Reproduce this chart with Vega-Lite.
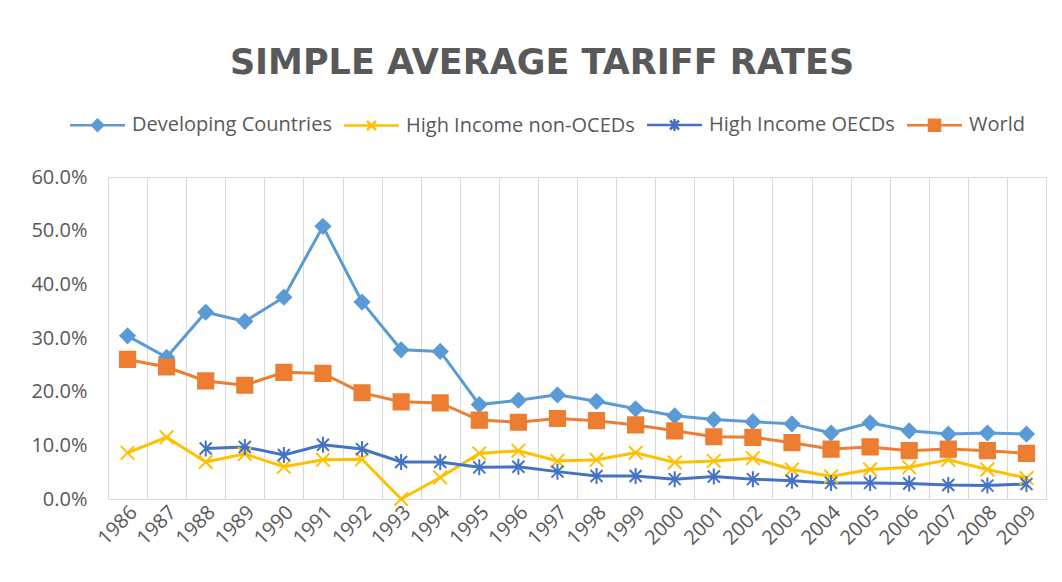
{
  "$schema": "https://vega.github.io/schema/vega-lite/v6.json",
  "width": 938,
  "height": 322,
  "autosize": {"type": "none"},
  "padding": {"left": 108, "top": 177, "right": 16, "bottom": 83},
  "background": "white",
  "title": {"text": "SIMPLE AVERAGE TARIFF RATES", "font": "DejaVu Sans", "fontSize": 35, "fontWeight": "bold", "color": "#595959", "anchor": "middle", "dx": -35, "offset": 34},
  "config": {"view": {"stroke": "#d9d9d9"}, "font": "Open Sans"},
  "data": {"values": [
    {"year": "1986", "series": "Developing Countries", "value": 0.304},
    {"year": "1987", "series": "Developing Countries", "value": 0.264},
    {"year": "1988", "series": "Developing Countries", "value": 0.348},
    {"year": "1989", "series": "Developing Countries", "value": 0.331},
    {"year": "1990", "series": "Developing Countries", "value": 0.376},
    {"year": "1991", "series": "Developing Countries", "value": 0.508},
    {"year": "1992", "series": "Developing Countries", "value": 0.367},
    {"year": "1993", "series": "Developing Countries", "value": 0.278},
    {"year": "1994", "series": "Developing Countries", "value": 0.275},
    {"year": "1995", "series": "Developing Countries", "value": 0.176},
    {"year": "1996", "series": "Developing Countries", "value": 0.184},
    {"year": "1997", "series": "Developing Countries", "value": 0.194},
    {"year": "1998", "series": "Developing Countries", "value": 0.182},
    {"year": "1999", "series": "Developing Countries", "value": 0.168},
    {"year": "2000", "series": "Developing Countries", "value": 0.155},
    {"year": "2001", "series": "Developing Countries", "value": 0.148},
    {"year": "2002", "series": "Developing Countries", "value": 0.144},
    {"year": "2003", "series": "Developing Countries", "value": 0.140},
    {"year": "2004", "series": "Developing Countries", "value": 0.123},
    {"year": "2005", "series": "Developing Countries", "value": 0.142},
    {"year": "2006", "series": "Developing Countries", "value": 0.127},
    {"year": "2007", "series": "Developing Countries", "value": 0.121},
    {"year": "2008", "series": "Developing Countries", "value": 0.123},
    {"year": "2009", "series": "Developing Countries", "value": 0.121},
    {"year": "1986", "series": "High Income non-OCEDs", "value": 0.086},
    {"year": "1987", "series": "High Income non-OCEDs", "value": 0.115},
    {"year": "1988", "series": "High Income non-OCEDs", "value": 0.069},
    {"year": "1989", "series": "High Income non-OCEDs", "value": 0.084},
    {"year": "1990", "series": "High Income non-OCEDs", "value": 0.060},
    {"year": "1991", "series": "High Income non-OCEDs", "value": 0.073},
    {"year": "1992", "series": "High Income non-OCEDs", "value": 0.074},
    {"year": "1993", "series": "High Income non-OCEDs", "value": 0.0},
    {"year": "1994", "series": "High Income non-OCEDs", "value": 0.040},
    {"year": "1995", "series": "High Income non-OCEDs", "value": 0.085},
    {"year": "1996", "series": "High Income non-OCEDs", "value": 0.090},
    {"year": "1997", "series": "High Income non-OCEDs", "value": 0.071},
    {"year": "1998", "series": "High Income non-OCEDs", "value": 0.073},
    {"year": "1999", "series": "High Income non-OCEDs", "value": 0.086},
    {"year": "2000", "series": "High Income non-OCEDs", "value": 0.068},
    {"year": "2001", "series": "High Income non-OCEDs", "value": 0.071},
    {"year": "2002", "series": "High Income non-OCEDs", "value": 0.076},
    {"year": "2003", "series": "High Income non-OCEDs", "value": 0.055},
    {"year": "2004", "series": "High Income non-OCEDs", "value": 0.042},
    {"year": "2005", "series": "High Income non-OCEDs", "value": 0.055},
    {"year": "2006", "series": "High Income non-OCEDs", "value": 0.059},
    {"year": "2007", "series": "High Income non-OCEDs", "value": 0.073},
    {"year": "2008", "series": "High Income non-OCEDs", "value": 0.055},
    {"year": "2009", "series": "High Income non-OCEDs", "value": 0.039},
    {"year": "1988", "series": "High Income OECDs", "value": 0.094},
    {"year": "1989", "series": "High Income OECDs", "value": 0.097},
    {"year": "1990", "series": "High Income OECDs", "value": 0.082},
    {"year": "1991", "series": "High Income OECDs", "value": 0.101},
    {"year": "1992", "series": "High Income OECDs", "value": 0.093},
    {"year": "1993", "series": "High Income OECDs", "value": 0.069},
    {"year": "1994", "series": "High Income OECDs", "value": 0.069},
    {"year": "1995", "series": "High Income OECDs", "value": 0.059},
    {"year": "1996", "series": "High Income OECDs", "value": 0.060},
    {"year": "1997", "series": "High Income OECDs", "value": 0.051},
    {"year": "1998", "series": "High Income OECDs", "value": 0.043},
    {"year": "1999", "series": "High Income OECDs", "value": 0.043},
    {"year": "2000", "series": "High Income OECDs", "value": 0.037},
    {"year": "2001", "series": "High Income OECDs", "value": 0.042},
    {"year": "2002", "series": "High Income OECDs", "value": 0.037},
    {"year": "2003", "series": "High Income OECDs", "value": 0.034},
    {"year": "2004", "series": "High Income OECDs", "value": 0.030},
    {"year": "2005", "series": "High Income OECDs", "value": 0.030},
    {"year": "2006", "series": "High Income OECDs", "value": 0.029},
    {"year": "2007", "series": "High Income OECDs", "value": 0.026},
    {"year": "2008", "series": "High Income OECDs", "value": 0.025},
    {"year": "2009", "series": "High Income OECDs", "value": 0.028},
    {"year": "1986", "series": "World", "value": 0.260},
    {"year": "1987", "series": "World", "value": 0.246},
    {"year": "1988", "series": "World", "value": 0.220},
    {"year": "1989", "series": "World", "value": 0.212},
    {"year": "1990", "series": "World", "value": 0.236},
    {"year": "1991", "series": "World", "value": 0.234},
    {"year": "1992", "series": "World", "value": 0.198},
    {"year": "1993", "series": "World", "value": 0.181},
    {"year": "1994", "series": "World", "value": 0.179},
    {"year": "1995", "series": "World", "value": 0.147},
    {"year": "1996", "series": "World", "value": 0.143},
    {"year": "1997", "series": "World", "value": 0.150},
    {"year": "1998", "series": "World", "value": 0.146},
    {"year": "1999", "series": "World", "value": 0.138},
    {"year": "2000", "series": "World", "value": 0.127},
    {"year": "2001", "series": "World", "value": 0.116},
    {"year": "2002", "series": "World", "value": 0.115},
    {"year": "2003", "series": "World", "value": 0.105},
    {"year": "2004", "series": "World", "value": 0.093},
    {"year": "2005", "series": "World", "value": 0.097},
    {"year": "2006", "series": "World", "value": 0.090},
    {"year": "2007", "series": "World", "value": 0.093},
    {"year": "2008", "series": "World", "value": 0.090},
    {"year": "2009", "series": "World", "value": 0.085}
  ]},
  "encoding": {
    "x": {
      "field": "year", "type": "ordinal",
      "scale": {"type": "band", "paddingInner": 0, "paddingOuter": 0},
      "axis": {"title": null, "labelAngle": -45, "labelAlign": "right", "labelBaseline": "middle", "labelFontSize": 20, "labelColor": "#595959", "labelFont": "Open Sans", "ticks": false, "tickBand": "extent", "grid": true, "gridColor": "#d9d9d9", "gridWidth": 1, "domainColor": "#d9d9d9", "labelPadding": 10, "labelOffset": 6}
    },
    "y": {
      "field": "value", "type": "quantitative",
      "scale": {"domain": [0, 0.6], "nice": false},
      "axis": {"title": null, "format": ".1%", "values": [0, 0.1, 0.2, 0.3, 0.4, 0.5, 0.6], "grid": false, "ticks": false, "domain": false, "labelFontSize": 20, "labelColor": "#595959", "labelFont": "Open Sans", "labelPadding": 21}
    },
    "color": {
      "field": "series", "type": "nominal",
      "scale": {"domain": ["Developing Countries", "High Income non-OCEDs", "High Income OECDs", "World"], "range": ["#5B9BD5", "#FFC000", "#4472C4", "#ED7D31"]},
      "legend": {
        "title": null, "orient": "none", "legendX": -43, "legendY": -62, "direction": "horizontal", "columns": 4,
        "labelFontSize": 20, "labelColor": "#595959", "labelFont": "Open Sans", "labelLimit": 400,
        "symbolSize": 100, "labelOffset": 47, "columnPadding": 7, "symbolStrokeWidth": 2.5,
        "encode": {"symbols": {"update": {
          "shape": {"signal": "datum.value === 'Developing Countries' ? 'M-1,0L10,0M4.5,-1.1L5.6,0L4.5,1.1L3.4,0Z' : datum.value === 'High Income non-OCEDs' ? 'M-1,0L10,0M3.6,-0.9L5.4,0.9M3.6,0.9L5.4,-0.9' : datum.value === 'High Income OECDs' ? 'M-1,0L10,0M3.6,-0.9L5.4,0.9M3.6,0.9L5.4,-0.9M4.5,-1.2L4.5,1.2' : 'M-1,0L10,0M3.4,-1.1L5.6,-1.1L5.6,1.1L3.4,1.1Z'"},
          "fill": {"scale": "color", "field": "value"},
          "stroke": {"scale": "color", "field": "value"},
          "strokeWidth": {"value": 2.5},
          "opacity": {"value": 1}
        }}}
      }
    }
  },
  "layer": [
    {"mark": {"type": "line", "strokeWidth": 3}},
    {
      "mark": {"type": "point", "filled": false, "strokeWidth": 2, "opacity": 1, "size": 256,
        "shape": {"expr": "datum.series === 'Developing Countries' ? 'M0,-0.9L0.9,0L0,0.9L-0.9,0Z' : datum.series === 'High Income non-OCEDs' ? 'M-0.85,-0.85L0.85,0.85M-0.85,0.85L0.85,-0.85' : datum.series === 'High Income OECDs' ? 'M-0.75,-0.75L0.75,0.75M-0.75,0.75L0.75,-0.75M0,-1L0,1' : 'M-0.95,-0.95L0.95,-0.95L0.95,0.95L-0.95,0.95Z'"}},
      "encoding": {
        "fill": {"field": "series", "type": "nominal", "legend": null,
          "scale": {"domain": ["Developing Countries", "High Income non-OCEDs", "High Income OECDs", "World"], "range": ["#5B9BD5", "#FFC000", "#4472C4", "#ED7D31"]}}
      }
    }
  ]
}
